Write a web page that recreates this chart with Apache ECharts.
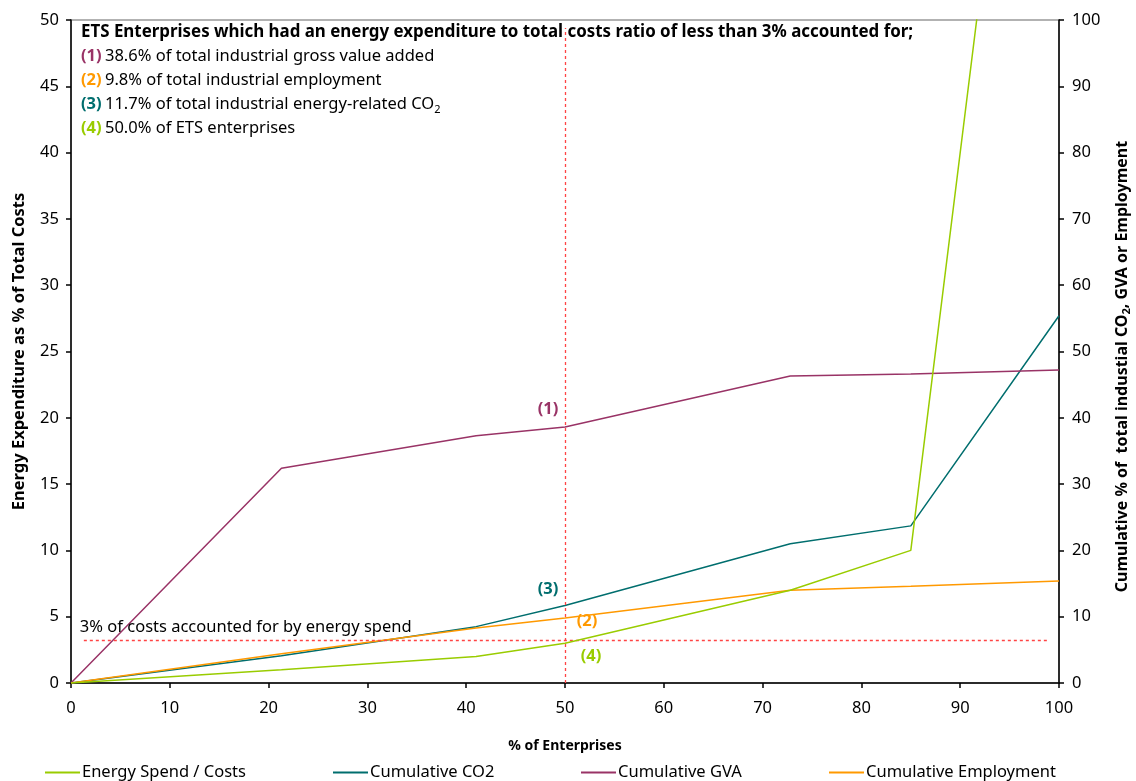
<!DOCTYPE html>
<html><head><meta charset="utf-8">
<script src="https://cdn.jsdelivr.net/npm/echarts@6/dist/echarts.min.js"></script>
<style>html,body{margin:0;padding:0;background:#fff}#c{width:1136px;height:781px}</style>
</head><body><div id="c"></div>
<script>
// % of enterprises (x) for each series point
const pctEnterprises = [0, 21.3, 41, 50, 72.8, 85, 100];
// left axis: energy spend as % of total costs
const energySpend = [0, 1.0, 2.0, 3.0, 7.0, 10.0, 100];
// right axis: cumulative %
const cumCO2 = [0, 4.1, 8.5, 11.7, 21.0, 23.7, 55.4];
const cumGVA = [0, 32.4, 37.3, 38.6, 46.3, 46.6, 47.2];
const cumEmployment = [0, 4.4, 8.3, 9.8, 14.0, 14.6, 15.4];
const seriesNames = ['Energy Spend / Costs', 'Cumulative CO2', 'Cumulative GVA', 'Cumulative Employment'];
const colors = ['#99cc00', '#006e6e', '#993366', '#ff9900'];
const threshold = 3.25;
const thresholdRange = [1.3, 98.9];
const cutoffX = 50;
const cutoffTop = 49.4;

const pairs = arr => pctEnterprises.map((x, i) => [x, arr[i]]);
const FONT = 'Noto Sans';
const FS = 16.5;

const chart = echarts.init(document.getElementById('c'));
const mkLabel = (txt, color, coord, offset) => ({
  coord: coord, symbolSize: 0, symbol: 'circle',
  label: {show: true, formatter: txt, color: color, fontWeight: 'bold', fontSize: FS, fontFamily: FONT, offset: offset}
});
const legendPos = [40, 328, 576, 824];
const rs = (c, bold, fs) => ({fontFamily: FONT, fontWeight: bold ? 'bold' : 'normal', fontSize: fs || FS, fill: c, lineHeight: 24});
chart.setOption({
  animation: false,
  color: colors,
  grid: {left: 71, right: 77, top: 20, bottom: 98, show: true, borderColor: '#999', borderWidth: 1.5,
    outerBoundsMode: 'none', containLabel: false},
  legend: seriesNames.map((n, i) => ({
    data: [n], left: legendPos[i], top: 759, itemWidth: 35, itemHeight: 2, icon: 'rect', itemGap: 4,
    textStyle: {fontFamily: FONT, fontSize: FS, color: '#000', padding: [0, 0, 0, -3]}
  })),
  xAxis: {
    type: 'value', min: 0, max: 100, interval: 10,
    name: '% of Enterprises', nameLocation: 'middle', nameGap: 56,
    nameTextStyle: {fontFamily: FONT, fontWeight: 'bold', fontSize: 14, color: '#000'},
    axisLine: {lineStyle: {color: '#000', width: 1.5}},
    axisTick: {show: true, length: 5, lineStyle: {color: '#000', width: 1.5}},
    axisLabel: {fontFamily: FONT, fontSize: FS, color: '#000', margin: 17},
    splitLine: {show: false}
  },
  yAxis: [{
    type: 'value', min: 0, max: 50, interval: 5, position: 'left',
    name: 'Energy Expenditure as % of Total Costs', nameLocation: 'middle', nameGap: 43, nameRotate: 90,
    nameTextStyle: {fontFamily: FONT, fontWeight: 'bold', fontSize: FS, color: '#000'},
    axisLine: {show: true, lineStyle: {color: '#000', width: 1.5}},
    axisTick: {show: true, length: 5, lineStyle: {color: '#000', width: 1.5}},
    axisLabel: {fontFamily: FONT, fontSize: FS, color: '#000', margin: 12},
    splitLine: {show: false}
  }, {
    type: 'value', min: 0, max: 100, interval: 10, position: 'right',
    name: 'Cumulative % of  total industial CO{s|2}, GVA or Employment', nameLocation: 'middle', nameGap: 54, nameRotate: 90,
    nameTextStyle: {fontFamily: FONT, fontWeight: 'bold', fontSize: 16, color: '#000', padding: [0, 30, 0, 0],
      rich: {s: {fontFamily: FONT, fontWeight: 'bold', fontSize: 11, color: '#000', verticalAlign: 'bottom', padding: [8, 0, 0, 0]}}},
    axisLine: {show: true, lineStyle: {color: '#000', width: 1.5}},
    axisTick: {show: true, length: 5, lineStyle: {color: '#000', width: 1.5}},
    axisLabel: {fontFamily: FONT, fontSize: FS, color: '#000', margin: 13},
    splitLine: {show: false}
  }],
  graphic: [{
    type: 'text', left: 81, top: 24,
    style: {
      text: '{b|ETS Enterprises which had an energy expenditure to total costs ratio of less than 3% accounted for;}\n' +
        '{p|(1)} {t|38.6% of total industrial gross value added}\n' +
        '{o|(2)} {t|9.8% of total industrial employment}\n' +
        '{c|(3)} {t|11.7% of total industrial energy-related CO}{sub|2}\n' +
        '{g|(4)} {t|50.0% of ETS enterprises}',
      rich: {
        b: rs('#000', true, 16.9),
        t: rs('#000', false),
        p: rs(colors[2], true),
        o: rs(colors[3], true),
        c: rs(colors[1], true),
        g: rs(colors[0], true),
        sub: {fontFamily: FONT, fontSize: 11, fill: '#000', lineHeight: 24, padding: [10, 0, 0, 0]}
      }
    }
  }],
  series: [{
    name: seriesNames[0], type: 'line', yAxisIndex: 0, data: pairs(energySpend),
    showSymbol: false, symbol: 'none', lineStyle: {width: 1.5}, z: 5,
    markLine: {
      silent: true, symbol: 'none', animation: false,
      lineStyle: {color: '#ff4444', type: [3, 3], width: 1.3},
      data: [
        [{coord: [thresholdRange[0], threshold],
          label: {show: true, position: 'insideStartTop', formatter: '3% of costs accounted for by energy spend',
            color: '#000', fontFamily: FONT, fontSize: FS, distance: [-4, 4]}},
         {coord: [thresholdRange[1], threshold]}],
        [{coord: [cutoffX, 0], label: {show: false}}, {coord: [cutoffX, cutoffTop]}]
      ]
    },
    markPoint: {data: [mkLabel('(4)', colors[0], [cutoffX, energySpend[3]], [26, 13])]}
  }, {
    name: seriesNames[1], type: 'line', yAxisIndex: 1, data: pairs(cumCO2),
    showSymbol: false, symbol: 'none', lineStyle: {width: 1.5},
    markPoint: {data: [mkLabel('(3)', colors[1], [cutoffX, cumCO2[3]], [-17, -16])]}
  }, {
    name: seriesNames[2], type: 'line', yAxisIndex: 1, data: pairs(cumGVA),
    showSymbol: false, symbol: 'none', lineStyle: {width: 1.5},
    markPoint: {data: [mkLabel('(1)', colors[2], [cutoffX, cumGVA[3]], [-17, -18])]}
  }, {
    name: seriesNames[3], type: 'line', yAxisIndex: 1, data: pairs(cumEmployment),
    showSymbol: false, symbol: 'none', lineStyle: {width: 1.5},
    markPoint: {data: [mkLabel('(2)', colors[3], [cutoffX, cumEmployment[3]], [22, 3])]}
  }]
});
</script></body></html>
